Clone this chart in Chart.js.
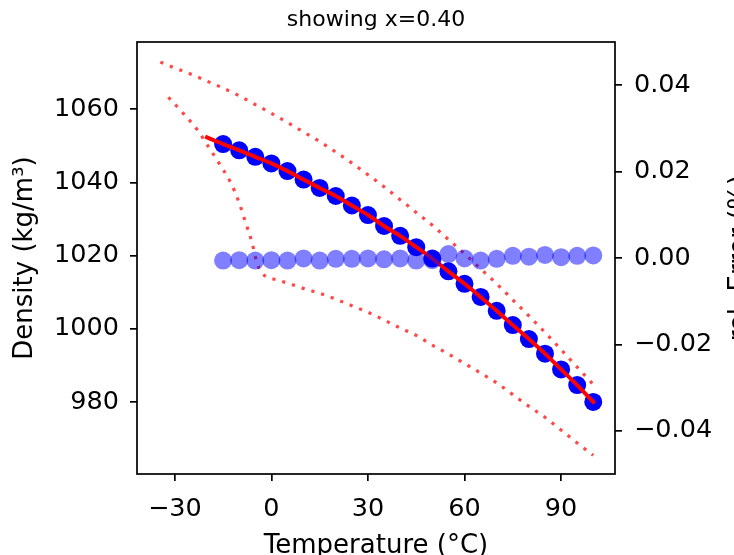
<!DOCTYPE html>
<html>
<head>
<meta charset="utf-8">
<script src="https://cdn.jsdelivr.net/npm/chart.js@4.4.0/dist/chart.umd.min.js"></script>
<style>
  html, body { margin: 0; padding: 0; background: #fff; }
  canvas { display: block; }
</style>
</head>
<body>
<canvas id="chart" width="734" height="555"></canvas>
<script>
// measured density (kg/m3) and relative error, every 5 degC
const densT = [-15, -10, -5, 0, 5, 10, 15, 20, 25, 30, 35, 40, 45, 50, 55, 60, 65, 70, 75, 80, 85, 90, 95, 100];
const densD = [1050.5, 1048.8, 1047.0, 1045.2, 1043.1, 1040.8, 1038.5, 1036.3, 1033.7, 1031.1, 1028.1, 1025.4,
  1022.3, 1019.2, 1015.7, 1012.3, 1008.7, 1004.9, 1001.0, 997.2, 993.2, 988.9, 984.6, 980.0];
const relErr = [-0.0006, -0.0005, -0.0006, -0.0005, -0.0006, -0.0001, -0.0006, -0.0002, -0.0002, -0.0001, -0.0003, -0.0001,
  -0.0006, -0.0005, 0.0009, -0.0001, -0.0006, -0.0002, 0.0005, 0.0003, 0.0007, 0.0002, 0.0005, 0.0006];

// fitted curve
const fitT = [-20, -15, -10, -5, 0, 5, 10, 15, 20, 25, 30, 35, 40, 45, 50, 55, 60, 65, 70, 75, 80, 85, 90, 95, 100];
const fitD = [1052.3, 1050.5, 1048.8, 1047.0, 1045.2, 1043.1, 1040.8, 1038.5, 1036.3, 1033.7, 1031.1, 1028.1, 1025.4,
  1022.3, 1019.2, 1015.7, 1012.3, 1008.7, 1004.9, 1001.0, 997.2, 993.2, 988.9, 984.6, 980.0];

// dotted bounds
const upperT = [-34.5, -30, -25, -20, -15, -10, -5, 0, 5, 10, 15, 20, 25, 30, 35, 40, 45, 50, 55, 60, 65, 70, 75, 80, 85, 90, 95, 100];
const upperD = [1072.9, 1071.3, 1069.6, 1067.7, 1065.8, 1063.7, 1061.3, 1058.9, 1056.4, 1053.8, 1051.2, 1048.3, 1045.3, 1042.1,
  1038.8, 1035.3, 1031.8, 1028.3, 1024.4, 1020.5, 1016.4, 1012.3, 1007.9, 1003.5, 999.0, 994.3, 989.5, 984.8];
const lowerT = [-32, -27.5, -23, -19.5, -16, -12.5, -10, -8, -6, -4.5, -3, -1.5, 1.5, 5, 10, 15, 20, 25, 30, 35, 40, 45, 50,
  55, 60, 65, 70, 75, 80, 85, 90, 95, 100];
const lowerD = [1063.3, 1059.0, 1054.4, 1049.7, 1044.9, 1039.7, 1034.4, 1029.0, 1023.5, 1018.1, 1015.3, 1014.2, 1013.4, 1012.5,
  1011.0, 1009.7, 1008.1, 1006.3, 1004.5, 1002.4, 1000.2, 998.2, 995.5, 993.1, 990.5, 987.9, 985.2, 982.0, 978.8, 975.8,
  972.3, 968.8, 965.4];

const xTicks = [-30, 0, 30, 60, 90];
const yTicks = [980, 1000, 1020, 1040, 1060];
const y1Ticks = [-0.04, -0.02, 0, 0.02, 0.04];

const titleText = 'showing x=0.40';
const xTitle = 'Temperature (°C)';
const yTitle = 'Density (kg/m³)';
const y1Title = 'rel. Error (%)';

const FONT = '"DejaVu Sans", sans-serif';
const TICK_SIZE = 25.5;
const minus = (s) => s.replace('-', '\u2212');
const pts = (xs, ys) => xs.map((x, i) => ({ x, y: ys[i] }));

const labelsPlugin = {
  id: 'labels',
  afterDraw(chart) {
    const { ctx, chartArea: a } = chart;
    ctx.save();
    ctx.strokeStyle = '#000';
    ctx.lineWidth = 1.7;
    ctx.strokeRect(a.left, a.top, a.right - a.left, a.bottom - a.top);
    ctx.fillStyle = '#000';
    ctx.textAlign = 'center';
    ctx.textBaseline = 'alphabetic';
    ctx.font = '22px ' + FONT;
    ctx.fillText(titleText, (a.left + a.right) / 2, 26);
    ctx.font = '26px ' + FONT;
    ctx.fillText(xTitle, (a.left + a.right) / 2, 553);
    ctx.save();
    ctx.translate(32, (a.top + a.bottom) / 2);
    ctx.rotate(-Math.PI / 2);
    ctx.fillText(yTitle, 0, 0);
    ctx.restore();
    ctx.save();
    ctx.translate(747, 258);
    ctx.rotate(-Math.PI / 2);
    ctx.fillText(y1Title, 0, 0);
    ctx.restore();
    ctx.restore();
  }
};

const axisStyle = {
  border: { display: false },
  grid: { display: true, drawOnChartArea: false, drawTicks: true, tickLength: 7, lineWidth: 1.7, color: '#000' },
};

new Chart(document.getElementById('chart'), {
  type: 'scatter',
  data: {
    datasets: [
      {
        label: 'rel. error',
        data: pts(densT, relErr),
        yAxisID: 'y1',
        pointRadius: 9,
        pointBorderWidth: 0,
        pointBackgroundColor: 'rgba(0,0,255,0.5)',
        showLine: false,
      },
      {
        type: 'line',
        label: 'fit',
        data: pts(fitT, fitD),
        yAxisID: 'y',
        borderColor: '#ff0000',
        borderWidth: 4,
        borderCapStyle: 'square',
        pointRadius: 0,
        cubicInterpolationMode: 'monotone',
        fill: false,
      },
      {
        label: 'density',
        data: pts(densT, densD),
        yAxisID: 'y',
        pointRadius: 9,
        pointBorderWidth: 0,
        pointBackgroundColor: '#0000ff',
        showLine: false,
      },
      {
        type: 'line',
        label: 'upper',
        data: pts(upperT, upperD),
        yAxisID: 'y',
        borderColor: 'rgba(255,0,0,0.72)',
        borderWidth: 3.2,
        borderDash: [3.2, 7],
        pointRadius: 0,
        cubicInterpolationMode: 'monotone',
        fill: false,
      },
      {
        type: 'line',
        label: 'lower',
        data: pts(lowerT, lowerD),
        yAxisID: 'y',
        borderColor: 'rgba(255,0,0,0.72)',
        borderWidth: 3.2,
        borderDash: [3.2, 7],
        pointRadius: 0,
        cubicInterpolationMode: 'monotone',
        fill: false,
      },
    ],
  },
  options: {
    responsive: false,
    devicePixelRatio: 1,
    animation: false,
    layout: { padding: { top: 42, left: 0, right: 0, bottom: 0 } },
    plugins: { legend: { display: false }, tooltip: { enabled: false }, title: { display: false } },
    scales: {
      x: {
        type: 'linear',
        position: 'bottom',
        min: -41.75,
        max: 106.75,
        ...axisStyle,
        afterBuildTicks: (s) => { s.ticks = xTicks.map((v) => ({ value: v })); },
        afterFit: (s) => { s.height = 81; },
        ticks: {
          color: '#000',
          font: { family: FONT, size: TICK_SIZE },
          padding: 13,
          maxRotation: 0,
          minRotation: 0,
          autoSkip: false,
          callback: (v) => minus(String(v)),
        },
      },
      y: {
        type: 'linear',
        position: 'left',
        min: 960.3,
        max: 1078.4,
        ...axisStyle,
        afterBuildTicks: (s) => { s.ticks = yTicks.map((v) => ({ value: v })); },
        afterFit: (s) => { s.width = 137; },
        ticks: { color: '#000', font: { family: FONT, size: TICK_SIZE }, padding: 11, callback: (v) => String(v) },
      },
      y1: {
        type: 'linear',
        position: 'right',
        min: -0.05,
        max: 0.05,
        ...axisStyle,
        afterBuildTicks: (s) => { s.ticks = y1Ticks.map((v) => ({ value: v })); },
        afterFit: (s) => { s.width = 119; },
        ticks: { color: '#000', font: { family: FONT, size: TICK_SIZE }, padding: 12, callback: (v) => minus(v.toFixed(2)) },
      },
    },
  },
  plugins: [labelsPlugin],
});
</script>
</body>
</html>
